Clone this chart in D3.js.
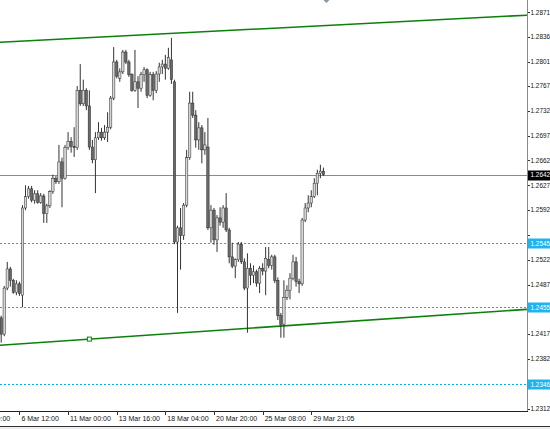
<!DOCTYPE html>
<html>
<head>
<meta charset="utf-8">
<style>
  body{
    margin: 0;
    background: #fff;
  }
  svg{
    display: block;
    font-family: 'Liberation Sans', Arial, sans-serif;
  }
</style>
</head>
<body>
<svg id="svgVis"></svg>

<script src="https://cdn.jsdelivr.net/npm/d3@7/dist/d3.min.js"></script>
<script>

// H4 bars
var open = [
  1.2440,1.2417,1.2482,1.2509,1.2493,1.2476,1.2488,1.2472,1.2595,1.2611,
  1.2622,1.2606,1.2615,1.2603,1.2612,1.2587,1.2598,1.2618,1.2637,1.2632,
  1.2660,1.2637,1.2680,1.2689,1.2682,1.2680,1.2761,1.2742,1.2761,1.2739,
  1.2681,1.2663,1.2694,1.2702,1.2694,1.2702,1.2709,1.2750,1.2801,1.2778,
  1.2787,1.2815,1.2801,1.2783,1.2761,1.2773,1.2764,1.2783,1.2790,1.2754,
  1.2783,1.2761,1.2784,1.2794,1.2798,1.2792,1.2804,1.2773,1.2547,1.2567,
  1.2556,1.2599,1.2666,1.2743,1.2726,1.2691,1.2708,1.2677,1.2681,1.2567,
  1.2592,1.2550,1.2581,1.2575,1.2595,1.2564,1.2526,1.2513,1.2522,1.2544,
  1.2519,1.2482,1.2510,1.2500,1.2505,1.2489,1.2510,1.2506,1.2522,1.2514,
  1.2526,1.2493,1.2443,1.2431,1.2469,1.2479,1.2496,1.2519,1.2491,1.2488,
  1.2578,1.2595,1.2602,1.2611,1.2630,1.2644,1.2647
];
var high = [
  1.2443,1.2485,1.2519,1.2512,1.2495,1.2493,1.2491,1.2599,1.2627,1.2626,
  1.2626,1.2620,1.2620,1.2616,1.2615,1.2601,1.2620,1.2642,1.2640,1.2684,
  1.2666,1.2684,1.2702,1.2695,1.2709,1.2767,1.2798,1.2776,1.2764,1.2761,
  1.2691,1.2702,1.2716,1.2708,1.2712,1.2730,1.2753,1.2822,1.2804,1.2792,
  1.2818,1.2818,1.2804,1.2785,1.2818,1.2781,1.2787,1.2794,1.2792,1.2787,
  1.2787,1.2788,1.2800,1.2804,1.2811,1.2821,1.2835,1.2776,1.2570,1.2595,
  1.2602,1.2677,1.2759,1.2759,1.2733,1.2716,1.2712,1.2702,1.2722,1.2599,
  1.2595,1.2585,1.2596,1.2599,1.2616,1.2567,1.2546,1.2524,1.2547,1.2547,
  1.2524,1.2531,1.2517,1.2514,1.2508,1.2513,1.2517,1.2540,1.2540,1.2529,
  1.2529,1.2497,1.2447,1.2493,1.2486,1.2503,1.2529,1.2526,1.2495,1.2581,
  1.2602,1.2613,1.2620,1.2637,1.2649,1.2656,1.2652
];
var low = [
  1.2405,1.2414,1.2479,1.2484,1.2474,1.2472,1.2471,1.2455,1.2592,1.2608,
  1.2603,1.2601,1.2601,1.2601,1.2574,1.2574,1.2595,1.2615,1.2629,1.2629,
  1.2596,1.2635,1.2677,1.2673,1.2667,1.2677,1.2739,1.2739,1.2733,1.2677,
  1.2658,1.2616,1.2691,1.2690,1.2691,1.2688,1.2706,1.2747,1.2778,1.2773,
  1.2784,1.2798,1.2780,1.2759,1.2759,1.2736,1.2759,1.2773,1.2750,1.2752,
  1.2747,1.2757,1.2773,1.2784,1.2776,1.2790,1.2770,1.2544,1.2447,1.2508,
  1.2550,1.2596,1.2663,1.2722,1.2680,1.2677,1.2658,1.2670,1.2564,1.2546,
  1.2543,1.2533,1.2570,1.2567,1.2561,1.2517,1.2510,1.2496,1.2519,1.2516,
  1.2479,1.2419,1.2486,1.2489,1.2484,1.2475,1.2500,1.2472,1.2510,1.2508,
  1.2489,1.2437,1.2412,1.2412,1.2465,1.2466,1.2493,1.2484,1.2475,1.2485,
  1.2575,1.2589,1.2596,1.2609,1.2613,1.2637,1.2640
];
var close = [
  1.2417,1.2482,1.2509,1.2493,1.2476,1.2488,1.2474,1.2595,1.2611,1.2622,
  1.2606,1.2615,1.2603,1.2612,1.2587,1.2598,1.2618,1.2637,1.2632,1.2660,
  1.2637,1.2680,1.2689,1.2682,1.2680,1.2761,1.2742,1.2761,1.2739,1.2681,
  1.2663,1.2694,1.2702,1.2694,1.2702,1.2709,1.2750,1.2801,1.2781,1.2787,
  1.2815,1.2801,1.2783,1.2761,1.2773,1.2764,1.2783,1.2790,1.2754,1.2783,
  1.2761,1.2784,1.2794,1.2798,1.2792,1.2807,1.2776,1.2547,1.2567,1.2556,
  1.2599,1.2666,1.2743,1.2726,1.2691,1.2708,1.2677,1.2684,1.2567,1.2592,
  1.2550,1.2581,1.2575,1.2595,1.2564,1.2526,1.2513,1.2522,1.2544,1.2519,
  1.2482,1.2510,1.2500,1.2505,1.2489,1.2510,1.2506,1.2524,1.2514,1.2526,
  1.2493,1.2443,1.2431,1.2469,1.2479,1.2496,1.2519,1.2491,1.2488,1.2578,
  1.2595,1.2602,1.2611,1.2630,1.2644,1.2647,1.2642
];

var yTicks = [1.2871,1.2836,1.2801,1.2767,1.2732,1.2697,1.2662,1.2627,1.2592,
              1.2557,1.2522,1.2487,1.2452,1.2417,1.2382,1.2347,1.2312];

var xTickBars = [-10, 6, 22, 38, 54, 70, 86, 102];
var xTickLabels = ["4 Mar 00:00","6 Mar 12:00","11 Mar 00:00","13 Mar 16:00",
                   "18 Mar 04:00","20 Mar 20:00","25 Mar 08:00","29 Mar 21:05"];

var currentPrice = 1.2642;
var levels = [1.2545, 1.2455, 1.2346];

// trend lines: [bar, price] anchors
var upperLine = [[0, 1.2829], [173, 1.2867]];
var lowerLine = [[29, 1.2410], [173, 1.2452]];

var width = 550, height = 429;
var plotRight = 527, plotBottom = 411;

var svg = d3.select("#svgVis")
    .attr("width", width)
    .attr("height", height);

svg.append("rect").attr("width", width).attr("height", height).attr("fill", "#fff");

var x = d3.scaleLinear().domain([0, 173]).range([1.2, 527.1]);
var y = d3.scaleLinear().domain([1.23128, 1.28715]).range([408, 12]);

svg.append("clipPath").attr("id", "plotClip")
  .append("rect").attr("x", 0).attr("y", 0).attr("width", plotRight).attr("height", plotBottom);

var plot = svg.append("g").attr("clip-path", "url(#plotClip)");

// horizontal levels
plot.selectAll(".level").data(levels).enter().append("line")
  .attr("x1", 0).attr("x2", plotRight)
  .attr("y1", function(d) { return Math.round(y(d)) + 0.5; })
  .attr("y2", function(d) { return Math.round(y(d)) + 0.5; })
  .attr("stroke", "#00b0ff")
  .attr("stroke-dasharray", "2,2");

plot.append("line")
  .attr("x1", 0).attr("x2", plotRight)
  .attr("y1", Math.round(y(currentPrice)) + 0.5)
  .attr("y2", Math.round(y(currentPrice)) + 0.5)
  .attr("stroke", "#7a8ea4");

// trend lines
function priceAt(pts, bar) {
  var t = (bar - pts[0][0]) / (pts[1][0] - pts[0][0]);
  return pts[0][1] + t * (pts[1][1] - pts[0][1]);
}

[upperLine, lowerLine].forEach(function(pts) {
  var b0 = x.invert(0), b1 = x.invert(plotRight);
  plot.append("line")
    .attr("x1", 0).attr("y1", y(priceAt(pts, b0)))
    .attr("x2", plotRight).attr("y2", y(priceAt(pts, b1)))
    .attr("stroke", "#0b800b")
    .attr("stroke-width", 1.6);
});

plot.append("rect")
  .attr("x", x(lowerLine[0][0]) - 2)
  .attr("y", y(lowerLine[0][1]) - 2)
  .attr("width", 4).attr("height", 4)
  .attr("fill", "#fff")
  .attr("stroke", "#0b800b");

// candles
var bars = d3.range(open.length);

plot.selectAll(".wick").data(bars).enter().append("line")
  .attr("x1", function(i) { return x(i); })
  .attr("x2", function(i) { return x(i); })
  .attr("y1", function(i) { return y(high[i]); })
  .attr("y2", function(i) { return y(low[i]); })
  .attr("stroke", "#333")
  .attr("stroke-width", 1);

plot.selectAll(".body").data(bars).enter().append("rect")
  .attr("x", function(i) { return x(i) - 1.2; })
  .attr("width", 2.4)
  .attr("y", function(i) { return y(Math.max(open[i], close[i])); })
  .attr("height", function(i) { return Math.max(0.8, Math.abs(y(open[i]) - y(close[i]))); })
  .attr("fill", function(i) { return close[i] >= open[i] ? "#d6d6d6" : "#6a6a6a"; })
  .attr("stroke", "#2a2a2a")
  .attr("stroke-width", 0.5);

// chart shift marker
svg.append("path")
  .attr("d", "M" + (x(107) - 3) + ",0 L" + (x(107) + 3) + ",0 L" + x(107) + ",3 Z")
  .attr("fill", "#8898aa");

// axes frame
svg.append("line")
  .attr("x1", plotRight + 0.5).attr("x2", plotRight + 0.5)
  .attr("y1", 0).attr("y2", plotBottom)
  .attr("stroke", "#8a8a8a");

svg.append("line")
  .attr("x1", 0).attr("x2", plotRight + 1)
  .attr("y1", plotBottom + 0.5).attr("y2", plotBottom + 0.5)
  .attr("stroke", "#222");

// price axis
var boxes = levels.map(function(d) { return {v: d, bg: "#1eb4f0"}; });
boxes.push({v: currentPrice, bg: "#000"});

// tick labels sitting under a highlighted box are hidden, as in the terminal
var shownTicks = yTicks.filter(function(t) {
  return !boxes.some(function(b) { return Math.abs(y(t) - y(b.v)) < 9; });
});

var yAxis = svg.append("g").attr("font-size", "6.4px");

yAxis.selectAll(".tk").data(yTicks).enter().append("line")
  .attr("x1", plotRight + 1).attr("x2", plotRight + 3)
  .attr("y1", function(d) { return Math.round(y(d)) + 0.5; })
  .attr("y2", function(d) { return Math.round(y(d)) + 0.5; })
  .attr("stroke", "#333");

yAxis.selectAll(".lb").data(shownTicks).enter().append("text")
  .attr("x", 530.5)
  .attr("y", function(d) { return y(d) + 2.3; })
  .attr("fill", "#111")
  .text(function(d) { return d3.format(".4f")(d); });

var hl = yAxis.selectAll(".hl").data(boxes).enter().append("g");
hl.append("rect")
  .attr("x", plotRight + 1)
  .attr("y", function(d) { return Math.round(y(d.v)) - 4.5; })
  .attr("width", width - plotRight)
  .attr("height", 10)
  .attr("fill", function(d) { return d.bg; });
hl.append("text")
  .attr("x", 530.5)
  .attr("y", function(d) { return y(d.v) + 2.3; })
  .attr("fill", "#fff")
  .text(function(d) { return d3.format(".4f")(d.v); });

// time axis
var xAxis = svg.append("g").attr("font-size", "7px");

xAxis.selectAll(".tk").data(xTickBars).enter().append("line")
  .attr("x1", function(d) { return Math.round(x(d)) + 0.5; })
  .attr("x2", function(d) { return Math.round(x(d)) + 0.5; })
  .attr("y1", plotBottom).attr("y2", plotBottom + 4)
  .attr("stroke", "#333");

xAxis.selectAll(".lb").data(xTickBars).enter().append("text")
  .attr("x", function(d) { return x(d) + 2; })
  .attr("y", 421)
  .attr("fill", "#111")
  .text(function(d, i) { return xTickLabels[i]; });

// bottom window edge
svg.append("line")
  .attr("x1", 0).attr("x2", width)
  .attr("y1", 426.5).attr("y2", 426.5)
  .attr("stroke", "#333");
svg.append("rect")
  .attr("x", 0).attr("y", 427).attr("width", width).attr("height", 2)
  .attr("fill", "#eeeeee");

</script>
</body>
</html>
